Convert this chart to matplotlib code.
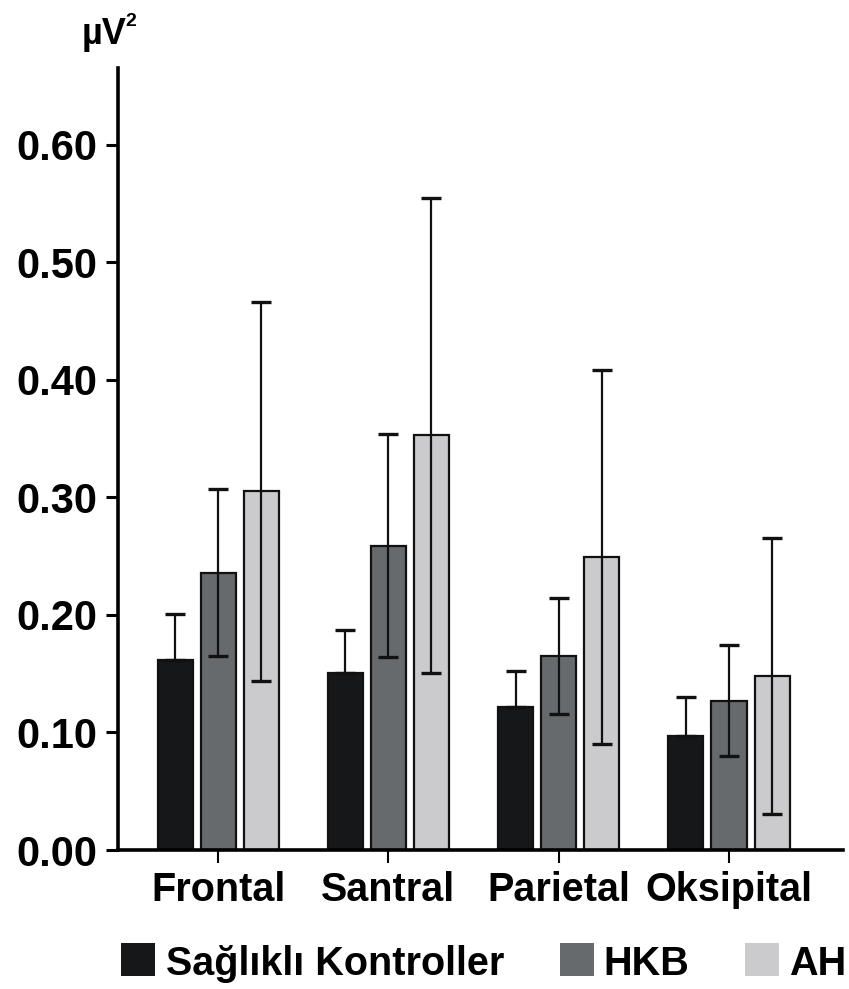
import matplotlib
matplotlib.use("Agg")
import matplotlib.pyplot as plt
import numpy as np
from matplotlib.patches import Rectangle

regions = ["Frontal", "Santral", "Parietal", "Oksipital"]
groups = ["Sağlıklı Kontroller", "HKB", "AH"]
kontrol = [0.162, 0.151, 0.122, 0.097]
kontrol_err = [0.039, 0.036, 0.030, 0.033]
hkb = [0.236, 0.259, 0.165, 0.127]
hkb_err = [0.071, 0.095, 0.049, 0.047]
ah = [0.305, 0.353, 0.249, 0.148]
ah_err = [0.161, 0.202, 0.159, 0.117]
yticks = [0.0, 0.1, 0.2, 0.3, 0.4, 0.5, 0.6]
ytick_labels = ["0.00", "0.10", "0.20", "0.30", "0.40", "0.50", "0.60"]

colors = ["#161718", "#676a6d", "#cbcbcd"]
plt.rcParams['font.family'] = ['Liberation Sans', 'DejaVu Sans']

W, H = 849, 989
fig = plt.figure(figsize=(W / 100, H / 100), dpi=100)
ax = fig.add_axes([0.139, 0.1405, 0.854, 0.7905])

x = np.arange(len(regions))
step = 0.253
width = 0.206
series = [(kontrol, kontrol_err), (hkb, hkb_err), (ah, ah_err)]
for i, (vals, errs) in enumerate(series):
    pos = x + (i - 1) * step
    ax.bar(pos, vals, width=width, color=colors[i], edgecolor="#111111",
           linewidth=1.6, zorder=2)
    if i == 0:
        yerr = [np.zeros(len(errs)), errs]  # lower whisker hidden inside black bar
    else:
        yerr = errs
    ax.errorbar(pos, vals, yerr=yerr, fmt="none", ecolor="#111111",
                elinewidth=1.6, capsize=7, capthick=2.4, zorder=3)

ax.set_xlim(-0.588, 3.67)
ax.set_ylim(0, 0.665)
ax.set_yticks(yticks)
ax.set_yticklabels(ytick_labels, fontsize=30, fontweight="bold")
ax.set_xticks(x)
ax.set_xticklabels(regions, fontsize=28.5, fontweight="bold")
ax.tick_params(axis="y", direction="out", length=9, width=2.2, pad=6)
ax.tick_params(axis="x", direction="out", length=9, width=1.5, pad=6)
for s in ["top", "right"]:
    ax.spines[s].set_visible(False)
ax.spines["left"].set_linewidth(2.6)
ax.spines["bottom"].set_linewidth(2.6)

fig.text(82 / W, 1 - 44 / H, "µV", fontsize=26, fontweight="bold",
         ha="left", va="baseline")
fig.text(125 / W, 1 - 13 / H, "2", fontsize=14, fontweight="bold",
         ha="left", va="top")

# legend: squares and labels along the bottom
sq_left = [121, 560, 745]
txt_left = [166, 603, 789]
for c, label, sx, tx in zip(colors, groups, sq_left, txt_left):
    fig.patches.append(Rectangle((sx / W, 1 - 976 / H), 34 / W, 33 / H,
                                 transform=fig.transFigure, facecolor=c,
                                 edgecolor="none"))
    fig.text(tx / W, 1 - 975 / H, label, fontsize=28.5, fontweight="bold",
             ha="left", va="baseline")

fig.savefig("out.png", dpi=100)
